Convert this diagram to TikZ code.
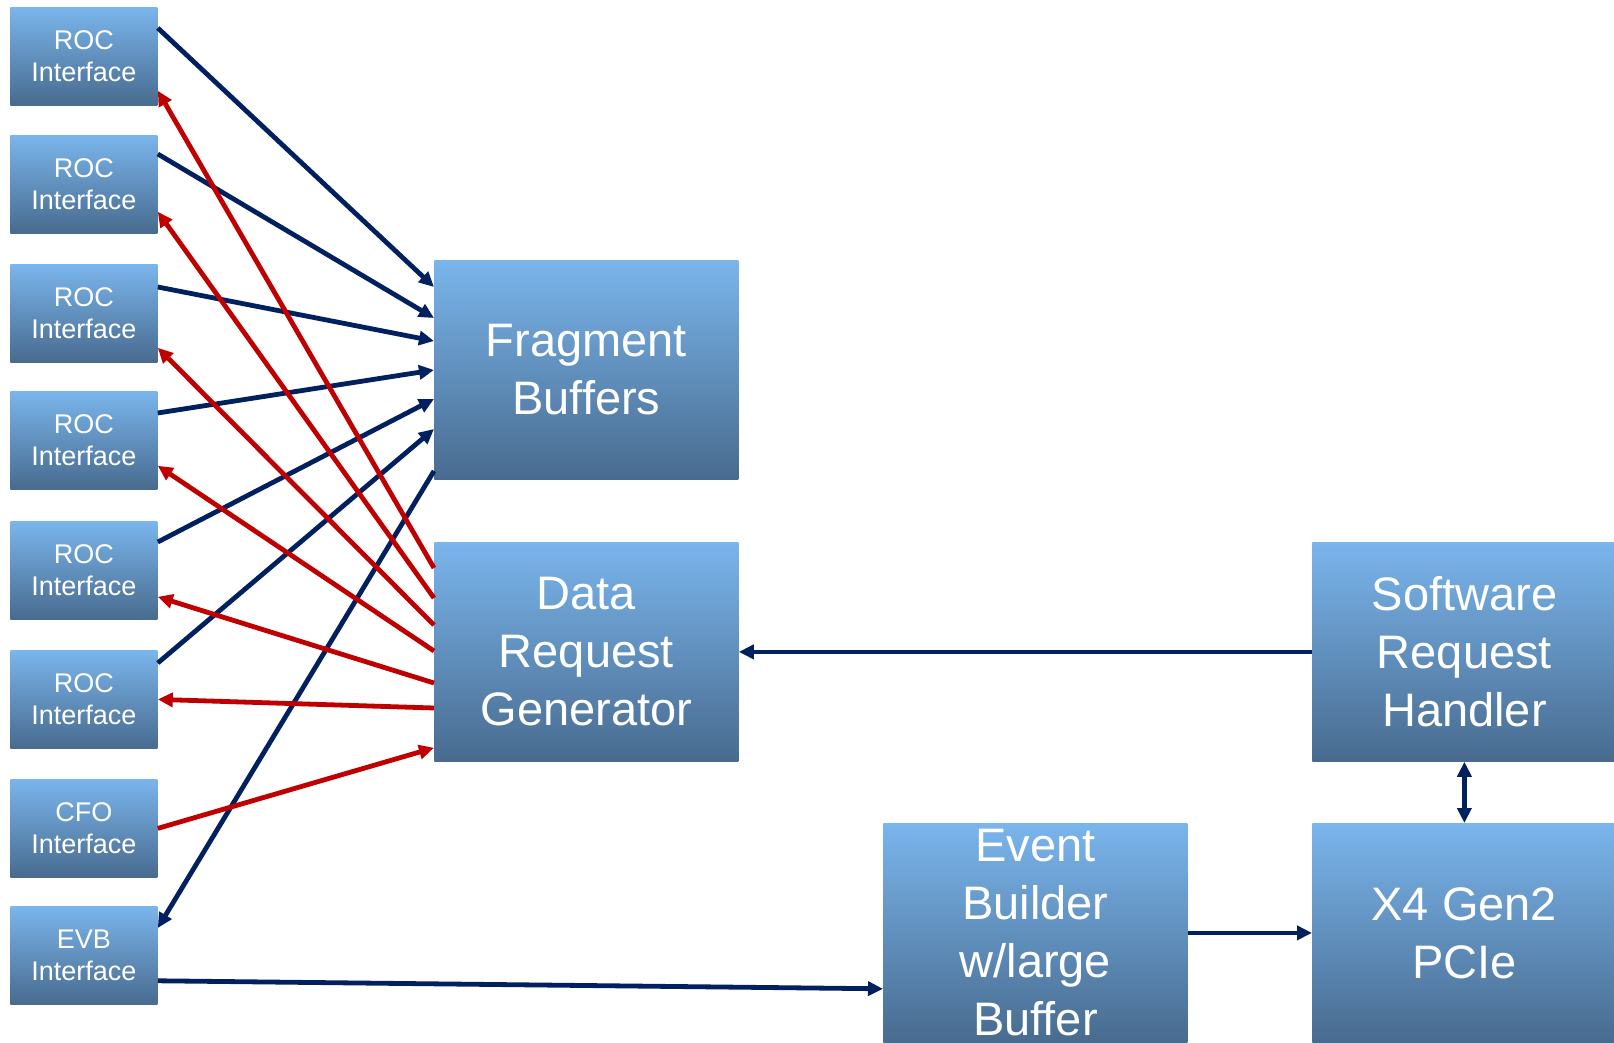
\documentclass[tikz,border=0pt]{standalone}
\usepackage{fontspec}
\setmainfont{Liberation Sans}
\usetikzlibrary{arrows.meta,calc}
\definecolor{navyc}{RGB}{0,32,96}
\definecolor{redc}{RGB}{192,0,0}
\definecolor{boxtop}{RGB}{122,181,236}
\definecolor{boxbot}{RGB}{72,107,143}
\begin{document}
\begin{tikzpicture}[x=0.5pt,y=-0.5pt,
  box/.style={rectangle, top color=boxtop, bottom color=boxbot, draw=none, anchor=north west, inner sep=0pt, text=white, align=center},
  smallbox/.style={box, minimum width=73.5pt, minimum height=49pt, font=\fontsize{13.5}{16}\selectfont},
  bigbox/.style={box, minimum width=152pt, minimum height=109.5pt, font=\fontsize{23.5}{29}\selectfont},
  navyarrow/.style={draw=navyc, line width=2.4pt, -{Triangle[length=7.5pt,width=7pt]}},
  redarrow/.style={draw=redc, line width=2.4pt, -{Triangle[length=7.5pt,width=7pt]}},
  bothnavy/.style={draw=navyc, line width=2.4pt, {Triangle[length=7.5pt,width=7pt]}-{Triangle[length=7.5pt,width=7pt]}}]
\useasboundingbox[fill=white] (0,0) rectangle (1614,1043);
% left column
\node[smallbox] (roc1) at (10,7) {ROC\\Interface};
\node[smallbox] (roc2) at (10,135) {ROC\\Interface};
\node[smallbox] (roc3) at (10,264) {ROC\\Interface};
\node[smallbox] (roc4) at (10,391) {ROC\\Interface};
\node[smallbox] (roc5) at (10,521) {ROC\\Interface};
\node[smallbox] (roc6) at (10,650) {ROC\\Interface};
\node[smallbox] (cfo) at (10,779) {CFO\\Interface};
\node[smallbox] (evb) at (10,906) {EVB\\Interface};
% big boxes
\node[bigbox] (fb) at (434,260) {Fragment\\Buffers};
\node[bigbox] (drg) at (434,542) {Data\\Request\\Generator};
\node[bigbox] (srh) at (1312,542) {Software\\Request\\Handler};
\node[bigbox] (eb) at (883,823) {Event\\Builder\\w/large\\Buffer};
\node[bigbox] (x4) at (1312,823) {X4 Gen2\\PCIe};
% blue: ROC -> fragment buffers
\draw[navyarrow] ($(roc1.north east)+(0,21)$) -- ($(fb.north west)+(0,27)$);
\draw[navyarrow] ($(roc2.north east)+(0,19)$) -- ($(fb.north west)+(0,58)$);
\draw[navyarrow] ($(roc3.north east)+(0,23)$) -- ($(fb.north west)+(0,81)$);
\draw[navyarrow] ($(roc4.north east)+(0,22)$) -- ($(fb.north west)+(0,110)$);
\draw[navyarrow] ($(roc5.north east)+(0,21)$) -- ($(fb.north west)+(0,139)$);
\draw[navyarrow] ($(roc6.north east)+(0,13)$) -- ($(fb.north west)+(0,169)$);
\draw[navyarrow] ($(fb.north west)+(0,211)$) -- ($(evb.north east)+(0,22)$);
% red: data request generator -> ROC
\draw[redarrow] ($(drg.north west)+(0,26)$) -- ($(roc1.south east)+(0,-15)$);
\draw[redarrow] ($(drg.north west)+(0,56)$) -- ($(roc2.south east)+(0,-22)$);
\draw[redarrow] ($(drg.north west)+(0,83)$) -- ($(roc3.south east)+(0,-15)$);
\draw[redarrow] ($(drg.north west)+(0,109)$) -- ($(roc4.south east)+(0,-24)$);
\draw[redarrow] ($(drg.north west)+(0,141)$) -- ($(roc5.south east)+(0,-23)$);
\draw[redarrow] ($(drg.north west)+(0,166)$) -- (roc6.east);
\draw[redarrow] (cfo.east) -- ($(drg.south west)+(0,-14)$);
% right side
\draw[navyarrow] (srh.west) -- (drg.east);
\draw[bothnavy] (srh.south) -- (x4.north);
\draw[navyarrow] (eb.east) -- (x4.west);
\draw[navyarrow] ($(evb.south east)+(0,-24)$) -- ($(eb.south west)+(0,-54)$);
\end{tikzpicture}
\end{document}
